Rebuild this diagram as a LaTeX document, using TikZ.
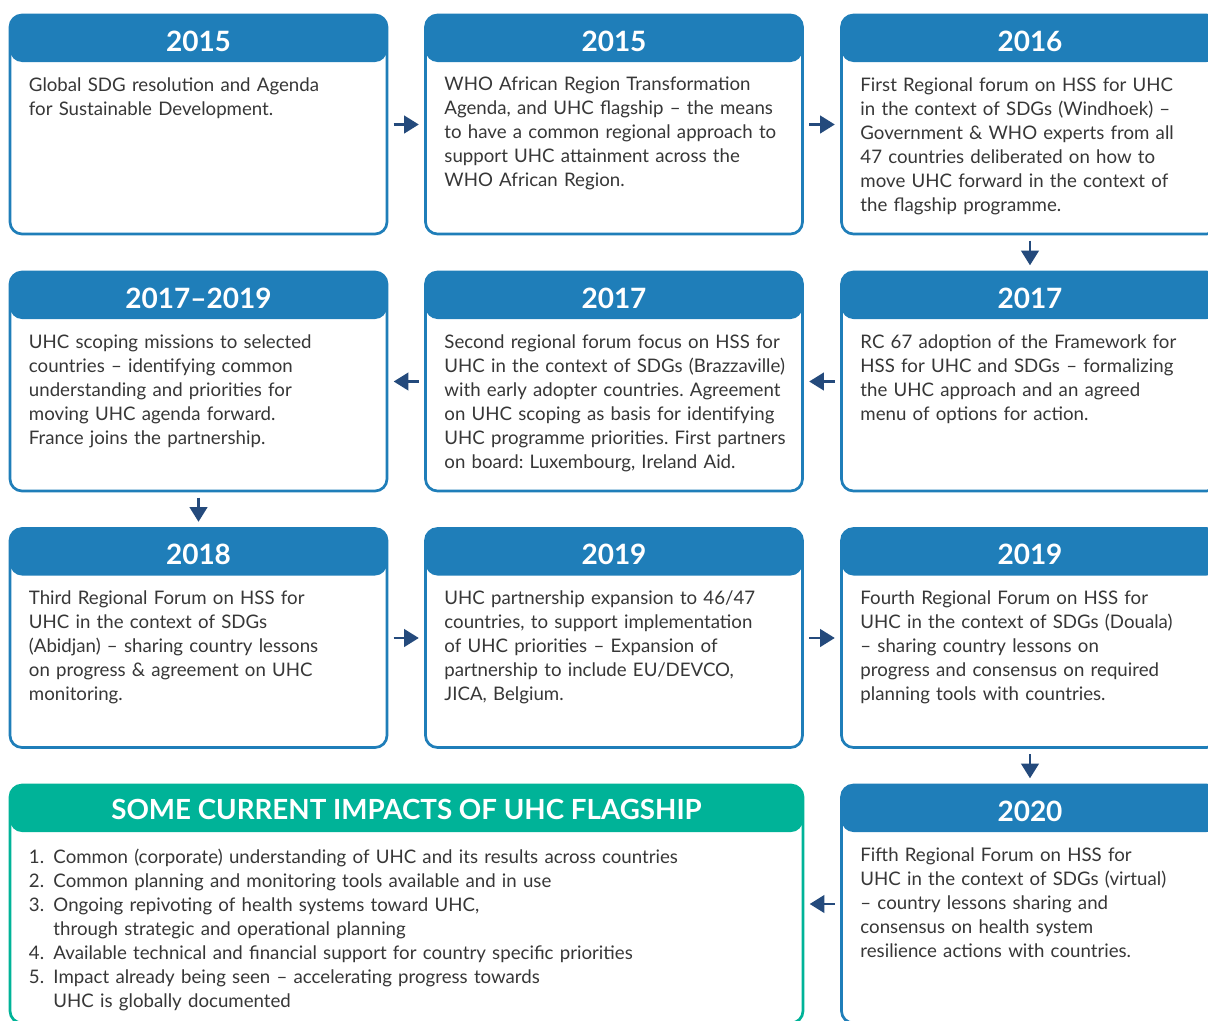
\documentclass[tikz,border=0pt]{standalone}
\usepackage{fontspec}
\setmainfont{Lato}
\usetikzlibrary{positioning}
\usetikzlibrary{arrows.meta}
\definecolor{hdrblue}{RGB}{31,126,185}
\definecolor{arrnavy}{RGB}{36,74,124}
\definecolor{impteal}{RGB}{0,179,152}
\definecolor{txtgray}{RGB}{55,55,55}
\frenchspacing
\tikzset{card/.style={ % Sets the look of each timeline card
draw=#1, fill=white,
line width=2pt,
rounded corners=9pt,
minimum width=282.75pt, minimum height=164.25pt,
inner sep=0pt,
path picture={\fill[#1] (path picture bounding box.north west) rectangle ([yshift=-35.25pt]path picture bounding box.north east);}},
card/.default=hdrblue,
year/.style={text=white, font=\fontsize{21}{21}\selectfont\bfseries},
body/.style={anchor=north west, text=txtgray, text width=285pt, align=left, inner sep=0pt,
font=\fontsize{14}{18}\selectfont},
flow/.style={ % Sets the properties for each connector
draw=arrnavy, line width=2.2pt,
-{Triangle[length=11pt,width=13pt]},
shorten <=4pt, shorten >=4pt}}

\begin{document}
\begin{tikzpicture}[x=0.75pt, y=-0.75pt]
\fill[white] (0,0) rectangle (1208,1021);
\clip (0,0) rectangle (1208,1021);
% first row
\node[card] (e1) at (198.5,124.5) {};
\node[card] (e2) at (614,124.5) {};
\node[card] (e3) at (1030,124.5) {};
% second row
\node[card] (e4) at (1030,381.5) {};
\node[card] (e5) at (614,381.5) {};
\node[card] (e6) at (198.5,381.5) {};
% third row
\node[card] (e7) at (198.5,638) {};
\node[card] (e8) at (614,638) {};
\node[card] (e9) at (1030,638) {};
% last row
\node[card, minimum height=178.5pt] (e10) at (1030,904) {};
\node[card=impteal, minimum width=594.75pt, minimum height=178.5pt] (imp) at (406.5,904) {};

\node[year] (e1y) at ([yshift=-20.5pt]e1.north) {2015};
\node[year] (e2y) at ([yshift=-20.5pt]e2.north) {2015};
\node[year] (e3y) at ([yshift=-20.5pt]e3.north) {2016};
\node[year] (e4y) at ([yshift=-20.5pt]e4.north) {2017};
\node[year] (e5y) at ([yshift=-20.5pt]e5.north) {2017};
\node[year] (e6y) at ([yshift=-20.5pt]e6.north) {2017--2019};
\node[year] (e7y) at ([yshift=-20.5pt]e7.north) {2018};
\node[year] (e8y) at ([yshift=-20.5pt]e8.north) {2019};
\node[year] (e9y) at ([yshift=-20.5pt]e9.north) {2019};
\node[year] (e10y) at ([yshift=-20.5pt]e10.north) {2020};
\node[year, font=\fontsize{20.8}{21}\selectfont\bfseries] (impy) at ([yshift=-19.5pt]imp.north) {SOME CURRENT IMPACTS OF UHC FLAGSHIP};

\node[body] (e1t) at ([xshift=15pt, yshift=-47.5pt]e1.north west) {Global SDG resolution and Agenda\\ for Sustainable Development.};
\node[body] (e2t) at ([xshift=15pt, yshift=-47.5pt]e2.north west) {WHO African Region Transformation\\ Agenda, and UHC flagship -- the means\\ to have a common regional approach to\\ support UHC attainment across the\\ WHO African Region.};
\node[body] (e3t) at ([xshift=15pt, yshift=-47.5pt]e3.north west) {First Regional forum on HSS for UHC\\ in the context of SDGs (Windhoek) --\\ Government \& WHO experts from all\\ 47 countries deliberated on how to\\ move UHC forward in the context of\\ the flagship programme.};
\node[body] (e4t) at ([xshift=15pt, yshift=-47.5pt]e4.north west) {RC 67 adoption of the Framework for\\ HSS for UHC and SDGs -- formalizing\\ the UHC approach and an agreed\\ menu of options for action.};
\node[body] (e5t) at ([xshift=15pt, yshift=-47.5pt]e5.north west) {Second regional forum focus on HSS for\\ UHC in the context of SDGs (Brazzaville)\\ with early adopter countries. Agreement\\ on UHC scoping as basis for identifying\\ UHC programme priorities. First partners\\ on board: Luxembourg, Ireland Aid.};
\node[body] (e6t) at ([xshift=15pt, yshift=-47.5pt]e6.north west) {UHC scoping missions to selected\\ countries -- identifying common\\ understanding and priorities for\\ moving UHC agenda forward.\\ France joins the partnership.};
\node[body] (e7t) at ([xshift=15pt, yshift=-47.5pt]e7.north west) {Third Regional Forum on HSS for\\ UHC in the context of SDGs\\ (Abidjan) -- sharing country lessons\\ on progress \& agreement on UHC\\ monitoring.};
\node[body] (e8t) at ([xshift=15pt, yshift=-47.5pt]e8.north west) {UHC partnership expansion to 46/47\\ countries, to support implementation\\ of UHC priorities -- Expansion of\\ partnership to include EU/DEVCO,\\ JICA, Belgium.};
\node[body] (e9t) at ([xshift=15pt, yshift=-47.5pt]e9.north west) {Fourth Regional Forum on HSS for\\ UHC in the context of SDGs (Douala)\\ -- sharing country lessons on\\ progress and consensus on required\\ planning tools with countries.};
\node[body] (e10t) at ([xshift=15pt, yshift=-47.5pt]e10.north west) {Fifth Regional Forum on HSS for\\ UHC in the context of SDGs (virtual)\\ -- country lessons sharing and\\ consensus on health system\\ resilience actions with countries.};
\node[body, text width=560pt] (impt) at ([xshift=15pt, yshift=-47pt]imp.north west) {%
\begin{tabular}{@{}l@{\hskip 7pt}l@{}}
1. & Common (corporate) understanding of UHC and its results across countries\\
2. & Common planning and monitoring tools available and in use\\
3. & Ongoing repivoting of health systems toward UHC,\\
   & through strategic and operational planning\\
4. & Available technical and financial support for country specific priorities\\
5. & Impact already being seen -- accelerating progress towards\\
   & UHC is globally documented
\end{tabular}};

\draw[flow] (e1) -- (e2);
\draw[flow] (e2) -- (e3);
\draw[flow] (e3) -- (e4);
\draw[flow] (e4) -- (e5);
\draw[flow] (e5) -- (e6);
\draw[flow] (e6) -- (e7);
\draw[flow] (e7) -- (e8);
\draw[flow] (e8) -- (e9);
\draw[flow] (e9) -- (e10);
\draw[flow] (e10) -- (imp);
\end{tikzpicture}
\end{document}
